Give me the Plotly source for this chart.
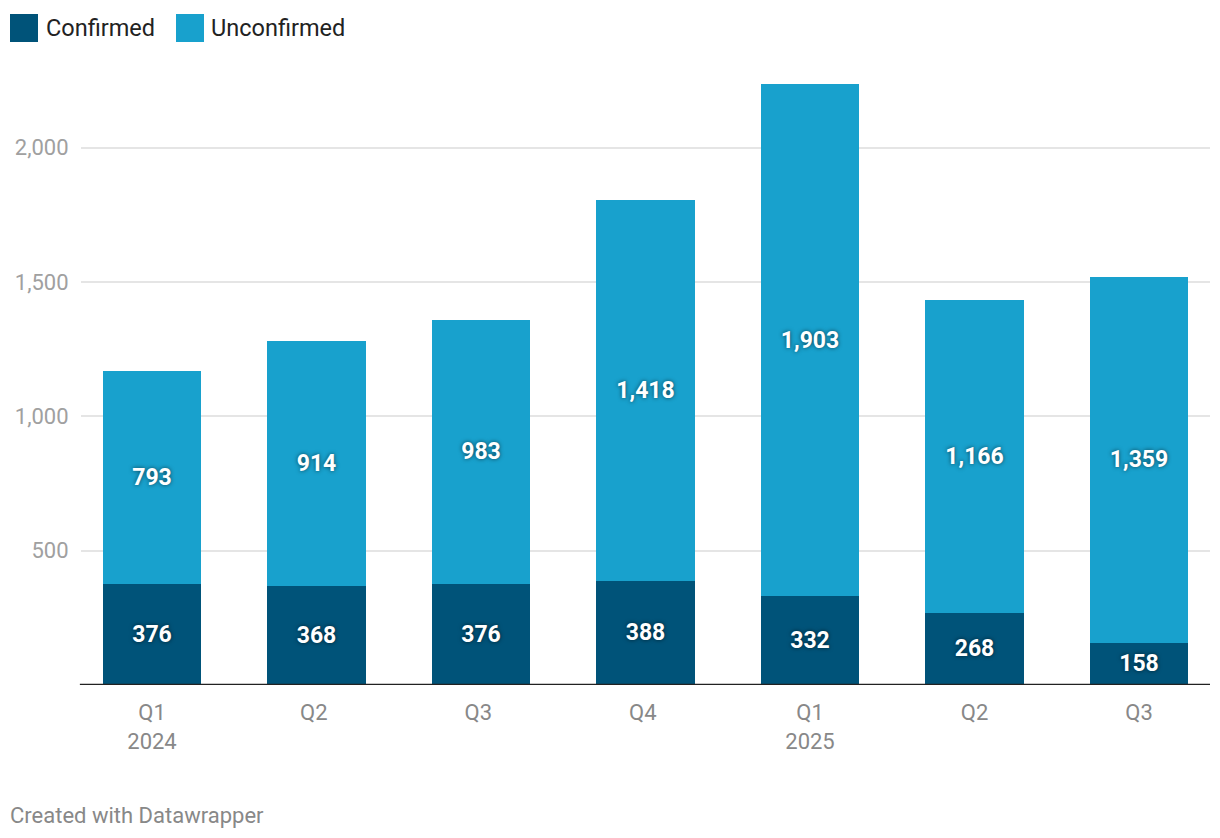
import plotly.graph_objects as go

categories = ["Q1<br>2024", "Q2 ", "Q3 ", "Q4 ", "Q1<br>2025", "Q2", "Q3"]
confirmed = [376, 368, 376, 388, 332, 268, 158]
unconfirmed = [793, 914, 983, 1418, 1903, 1166, 1359]
y_ticks = [500, 1000, 1500, 2000]
y_tick_text = ["500", "1,000", "1,500", "2,000"]

DARK = "#005379"
LIGHT = "#18a1cd"
FONT = "Roboto"

fig = go.Figure()
for name, vals, col in [("Confirmed", confirmed, DARK), ("Unconfirmed", unconfirmed, LIGHT)]:
    fig.add_trace(go.Bar(
        x=categories, y=vals, name=name, marker=dict(color=col, line=dict(width=0)),
        width=0.596, texttemplate="%{y:,}", textposition="inside",
        insidetextanchor="middle",
        textfont=dict(family=FONT, size=23, color="white", weight="bold", shadow="0px 0px 4px rgba(0,0,0,0.6)"),
        hoverinfo="skip", showlegend=False,
    ))

fig.update_layout(
    width=1220, height=838,
    barmode="stack",
    paper_bgcolor="white", plot_bgcolor="white",
    margin=dict(l=81, r=10, t=67, b=153),
    font=dict(family=FONT, color="#333"),
    uniformtext=dict(minsize=18, mode="show"),
    separators=".,",
)
fig.update_xaxes(
    type="category", range=[-0.4316, 6.4316],
    showgrid=False, showline=False, zeroline=False,
    ticks="outside", ticklen=8, tickcolor="rgba(0,0,0,0)",
    tickfont=dict(family=FONT, size=22, color="#888"),
)
fig.update_yaxes(
    range=[0, 2300], tickvals=y_ticks, ticktext=y_tick_text,
    showgrid=True, gridcolor="#e5e5e5", gridwidth=1.5,
    zeroline=False, showline=False,
    ticks="outside", ticklen=7, tickcolor="rgba(0,0,0,0)",
    tickfont=dict(family=FONT, size=22, color="#a0a0a0"),
)
# baseline
fig.add_shape(type="line", xref="paper", yref="y", x0=-0.001, x1=1, y0=0, y1=0,
              line=dict(color="#222", width=2.5))

# legend (manual, for large swatches)
legend_items = [("Confirmed", DARK, 10, 44), ("Unconfirmed", LIGHT, 176, 209)]
for label, col, sx, tx in legend_items:
    fig.add_shape(type="rect", xref="paper", yref="paper",
                  x0=(sx - 81) / 1129, x1=(sx + 28 - 81) / 1129,
                  y0=(838 - 153 - 42) / 618, y1=(838 - 153 - 14) / 618,
                  line=dict(width=0), fillcolor=col)
    fig.add_annotation(xref="paper", yref="paper", x=(tx - 81) / 1129, y=(838 - 153 - 28) / 618,
                       text=label, showarrow=False, xanchor="left", yanchor="middle",
                       font=dict(family=FONT, size=23.5, color="#222"))

fig.add_annotation(xref="paper", yref="paper", x=(8 - 81) / 1129, y=(838 - 153 - 815) / 618,
                   text="Created with Datawrapper", showarrow=False, xanchor="left", yanchor="middle",
                   font=dict(family=FONT, size=22, color="#888"))

fig.write_html("out.html", config={"displayModeBar": False},
               post_script="document.body.style.margin='0';")
